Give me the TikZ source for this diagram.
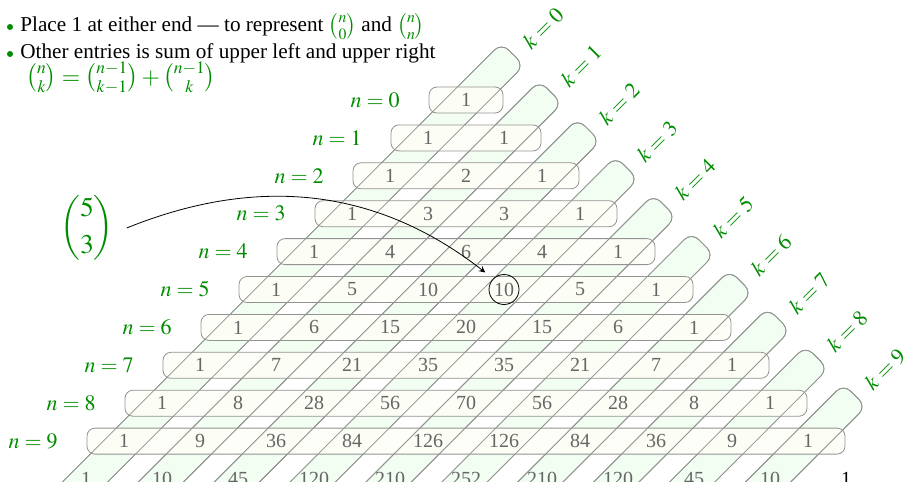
\documentclass[tikz,border=0pt]{standalone}
\usepackage{amsmath}
\usepackage{mathptmx}
\usepackage{fontspec}
\setmainfont{Liberation Serif}
\usetikzlibrary{positioning}
\definecolor{slidegreen}{rgb}{0.0, 0.55, 0.0}
\definecolor{diagfill}{rgb}{0.95, 0.995, 0.95}
\definecolor{rowfill}{rgb}{0.995, 0.995, 0.97}

\begin{document}
\begin{tikzpicture}[
    % one pixel of the slide is half a point, y runs downwards
    x=0.5pt, y=-0.5pt,
    itemdot/.style={circle, fill=slidegreen, inner sep=0pt, minimum size=3pt},
    itemtext/.style={anchor=base west, inner sep=0pt, font=\fontsize{10.6}{12.6}\selectfont},
    entry/.style={text=black!\shade, font=\fontsize{10}{12}\selectfont, inner sep=1pt},
    rowbox/.style={draw=gray!85, rounded corners=4pt, minimum height=13pt, inner sep=0pt},
    diagbox/.style={rounded corners=5pt, minimum width=424pt, minimum height=16pt, inner sep=0pt, rotate=45},
    nlabel/.style={text=slidegreen, font=\fontsize{11}{13}\selectfont},
    klabel/.style={text=slidegreen, font=\fontsize{11}{13}\selectfont, rotate=45}
]
    \useasboundingbox (0,0) rectangle (903,481);
    \clip (0,0) rectangle (903,481);

    % --- the two rules ---
    \node(dot-1)[itemdot] at (10,27) {};
    \node(item-1)[itemtext] at (20,32) {Place 1 at either end --- to represent \textcolor{slidegreen}{$\binom{n}{0}$} and \textcolor{slidegreen}{$\binom{n}{n}$}};
    \node(dot-2)[itemdot] at (10,54) {};
    \node(item-2)[itemtext] at (20,59) {Other entries is sum of upper left and upper right};
    \node(rule)[itemtext, text=slidegreen, font=\fontsize{11.8}{14}\selectfont] at (26,84) {$\binom{n}{k}=\binom{n-1}{k-1}+\binom{n-1}{k}$};

    % --- diagonals of fixed k (filled first) ---
    \foreach \k in {0,...,9} {
        \node(diag-\k)[diagbox, fill=diagfill, draw=gray!85] at ({213+38*\k}, {354+37.9*\k}) {};
        \node(klab-\k)[klabel] at ({543+38*\k}, {28+37.9*\k}) {$k=\k$};
    }

    % --- rows of fixed n ---
    \foreach \n in {0,...,9} {
        \node(row-\n)[rowbox, fill=rowfill, fill opacity=0.85, minimum width={(38*\n+37)*1pt}] at (466, {100+37.9*\n}) {};
        \node(nlab-\n)[nlabel, left=11pt of row-\n] {$n=\n$};
    }

    % diagonal outlines again, so they show through the rows
    \foreach \k in {0,...,9}
        \node[diagbox, draw=gray!85] at (diag-\k) {};

    % --- the entries, each from the one before it ---
    \foreach \n in {0,...,10} {
        \gdef\entryval{1}
        \foreach \k in {0,...,\n} {
            \pgfmathtruncatemacro{\shade}{60+40*(\n==10)*(\k==10)}
            \node(num-\n-\k)[entry] at ({466+(2*\k-\n)*38}, {100+37.9*\n}) {\entryval};
            \pgfmathtruncatemacro{\nextval}{round(\entryval*(\n-\k)/(\k+1))}
            \global\let\entryval\nextval
        }
    }

    % --- picking out one entry ---
    \node(hit)[draw, circle, minimum size=15pt, inner sep=0pt] at (num-5-3) {};
    \node(pick)[text=slidegreen, font=\fontsize{13.5}{16}\selectfont] at (87,228) {$\displaystyle\binom{5}{3}$};
    \draw[->, >=stealth, shorten >=5pt] ([xshift=3pt]pick.east) to[out=22, in=142] (hit.north west);
\end{tikzpicture}
\end{document}
